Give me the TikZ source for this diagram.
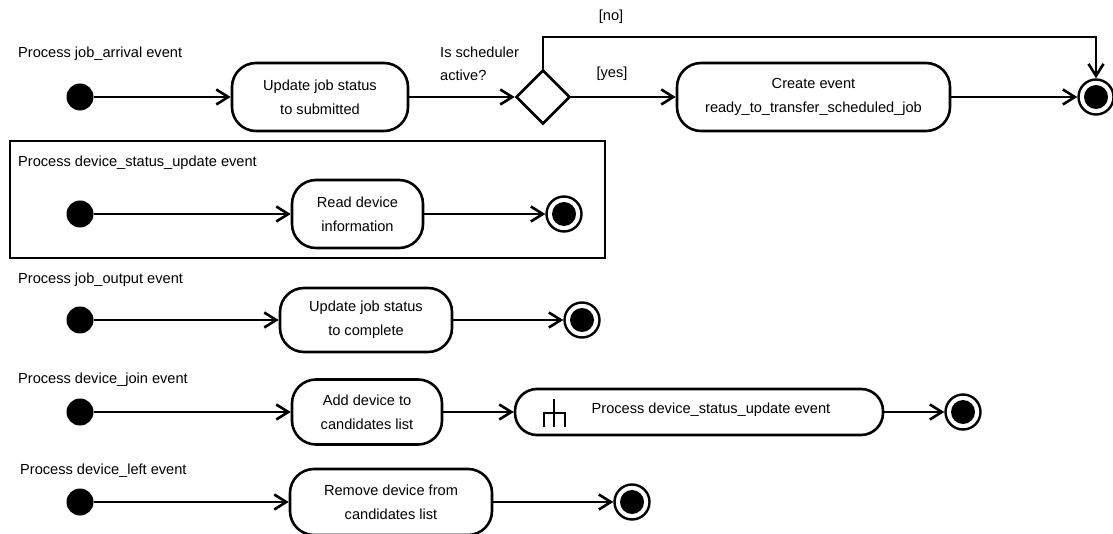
\documentclass[tikz,border=0pt]{standalone}
\usepackage{fontspec}
\setmainfont{Liberation Sans}
\usetikzlibrary{shapes.geometric,arrows.meta}
\begin{document}
\begin{tikzpicture}[x=1pt,y=-1pt,
  every node/.style={font=\fontsize{14.6}{24}\selectfont},
  lbl/.style={anchor=base west,inner sep=0},
  initial/.style={circle,fill=black,minimum size=27pt,inner sep=0},
  final/.style={circle,draw,line width=2.4pt,minimum size=35pt,inner sep=0,
    path picture={\fill (path picture bounding box.center) circle (12pt);}},
  action/.style={draw,line width=2.6pt,rounded corners=24pt,align=center,inner sep=0},
  decision/.style={diamond,draw,line width=2.6pt,minimum width=54pt,minimum height=54pt,inner sep=0},
  arr/.style={line width=2.6pt,-{Straight Barb[length=12pt,width=15pt]}},
  frame/.style={draw,line width=2.6pt}]
\useasboundingbox (0,0) rectangle (1113,534);

% --- job_arrival ---
\node[lbl] (t1) at (18,58) {Process job\_arrival event};
\node[initial] (i1) at (80,97) {};
\node[action,minimum width=176pt,minimum height=68pt] (a1) at (320,97) {Update job status\\to submitted};
\node[decision] (d1) at (543,97) {};
% two-line guard text; base anchor sits on the last line
\node[lbl,align=left,font=\fontsize{14.6}{23}\selectfont] (q1) at (440,81) {Is scheduler\\active?};
\node[action,minimum width=273pt,minimum height=68pt] (a2) at (813.5,97) {Create event\\ready\_to\_transfer\_scheduled\_job};
\node[final] (f1) at (1096,97) {};
\node (no) at (611,17) {[no]};
\node (yes) at (612,74) {[yes]};
\coordinate (top) at (0,37);
\draw[arr] (i1) -- (a1);
\draw[arr] (a1) -- (d1.west);
\draw[arr] (d1.east) -- (a2);
\draw[arr] (a2) -- (f1);
\draw[arr] (d1.north) -- (d1.north |- top) -| (f1.north);

% --- device_status_update ---
\draw[frame] (10,141) rectangle (605,258);
\node[lbl] (t2) at (18,167) {Process device\_status\_update event};
\node[initial] (i2) at (80,214) {};
\node[action,minimum width=131pt,minimum height=68pt] (a3) at (357.5,214) {Read device\\information};
\node[final] (f2) at (564,214) {};
\draw[arr] (i2) -- (a3);
\draw[arr] (a3) -- (f2);

% --- job_output ---
\node[lbl] (t3) at (18,284) {Process job\_output event};
\node[initial] (i3) at (80,320) {};
\node[action,minimum width=172pt,minimum height=64pt] (a4) at (366,320) {Update job status\\to complete};
\node[final] (f3) at (582,320) {};
\draw[arr] (i3) -- (i3 -| a4.west);
\draw[arr] (a4) -- (f3);

% --- device_join ---
\node[lbl] (t4) at (18,383) {Process device\_join event};
\node[initial] (i4) at (80,412) {};
\node[action,minimum width=150pt,minimum height=65pt] (a5) at (367,412) {Add device to\\candidates list};
\node[draw,line width=2.6pt,rounded corners=22pt,minimum width=368pt,minimum height=46pt,inner sep=0] (c1) at (699,412) {};
\node (c1t) at (711,410) {Process device\_status\_update event};
\draw[line width=1.3pt] (554,399) -- (554,427) (544,427) -- (544,413) -- (565,413) -- (565,427);
\node[final] (f4) at (963,412) {};
\draw[arr] (i4) -- (a5);
\draw[arr] (a5) -- (c1);
\draw[arr] (c1) -- (f4);

% --- device_left ---
\node[lbl] (t5) at (20,474) {Process device\_left event};
\node[initial] (i5) at (80,502) {};
\node[action,minimum width=202pt,minimum height=66pt] (a6) at (391,502) {Remove device from\\candidates list};
\node[final] (f5) at (632,502) {};
\draw[arr] (i5) -- (i5 -| a6.west);
\draw[arr] (a6) -- (f5);
\end{tikzpicture}
\end{document}
